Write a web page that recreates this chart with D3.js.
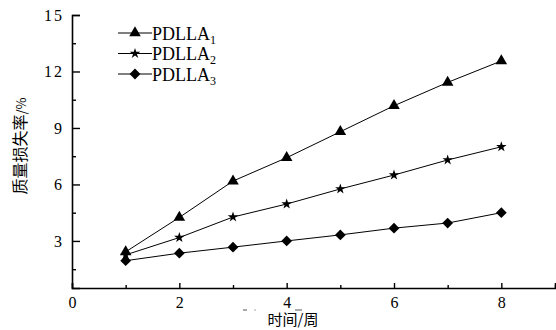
<!DOCTYPE html>
<html>
<head>
<meta charset="utf-8">
<script src="https://cdn.jsdelivr.net/npm/d3@7"></script>
<style>
  html, body { margin: 0; padding: 0; background: #fff; }
  svg { display: block; }
  .tick text { font-family: "Liberation Serif", "Times New Roman", serif; font-size: 16px; fill: #000; }
</style>
</head>
<body>
<svg id="chart" width="556" height="330"></svg>
<script>
// Weeks of degradation
const weeks = [1, 2, 3, 4, 5, 6, 7, 8];
// Mass loss (%) for each PDLLA sample
const pdlla1 = [2.42, 4.25, 6.18, 7.42, 8.8, 10.18, 11.42, 12.56];
const pdlla2 = [2.26, 3.18, 4.27, 4.96, 5.76, 6.5, 7.3, 8.0];
const pdlla3 = [1.95, 2.35, 2.67, 3.0, 3.32, 3.68, 3.95, 4.5];
const seriesNames = ["1", "2", "3"];           // subscripts of PDLLA
const xMajorTicks = [0, 2, 4, 6, 8];
const xMinorTicks = [1, 3, 5, 7, 9];
const yMajorTicks = [3, 6, 9, 12, 15];
const yMinorTicks = [1.5, 4.5, 7.5, 10.5, 13.5];

const svg = d3.select("#chart");

const x = d3.scaleLinear().domain([0, 9]).range([72, 555]);
const y = d3.scaleLinear().domain([0.5, 15]).range([288, 15]);

// marker shapes
const tri = d3.symbol().type(d3.symbolTriangle).size(58)();
const star = d3.symbol().type(d3.symbolStar).size(34)();
const dia = d3.symbol().type(d3.symbolSquare).size(58)();
const shapes = [
  { path: tri, rot: 0 },
  { path: star, rot: 0 },
  { path: dia, rot: 45 }
];
const series = [pdlla1, pdlla2, pdlla3];

// axes
const yAxis = svg.append("g").attr("transform", `translate(${x(0)},0)`)
  .call(d3.axisLeft(y).tickValues(yMajorTicks).tickSize(-8).tickPadding(8).tickFormat(d3.format("d")));
yAxis.selectAll(".tick text").attr("letter-spacing", "2px");
svg.append("g").attr("transform", `translate(${x(0)},0)`)
  .call(d3.axisLeft(y).tickValues(yMinorTicks).tickSize(-4).tickFormat(""))
  .select(".domain").remove();

svg.append("g").attr("transform", `translate(0,${y(0.5)})`)
  .call(d3.axisBottom(x).tickValues(xMajorTicks).tickSize(-5).tickPadding(9).tickFormat(d3.format("d")));
svg.append("g").attr("transform", `translate(0,${y(0.5)})`)
  .call(d3.axisBottom(x).tickValues(xMinorTicks).tickSize(-3).tickFormat(""))
  .select(".domain").remove();

svg.selectAll(".domain").attr("stroke", "#000").attr("stroke-width", 1.6);
svg.selectAll(".tick line").attr("stroke", "#000").attr("stroke-width", 1.4);

// lines and markers
const line = d3.line().x((d, i) => x(weeks[i])).y(d => y(d));
series.forEach((vals, s) => {
  svg.append("path").datum(vals)
    .attr("d", line).attr("fill", "none").attr("stroke", "#000").attr("stroke-width", 1);
  svg.append("g").selectAll("path").data(vals).join("path")
    .attr("d", shapes[s].path)
    .attr("transform", (d, i) => `translate(${x(weeks[i])},${y(d)}) rotate(${shapes[s].rot})`)
    .attr("fill", "#000");
});

// legend
const legendRows = [33, 53.5, 74];
seriesNames.forEach((n, s) => {
  const g = svg.append("g").attr("transform", `translate(0,${legendRows[s]})`);
  g.append("line").attr("x1", 118).attr("x2", 152).attr("y1", 0).attr("y2", 0)
    .attr("stroke", "#000").attr("stroke-width", 1);
  g.append("path").attr("d", shapes[s].path)
    .attr("transform", `translate(135,0) rotate(${shapes[s].rot})`).attr("fill", "#000");
  const t = g.append("text").attr("x", 152).attr("y", 6.5)
    .attr("font-family", "'Liberation Serif', 'Times New Roman', serif")
    .attr("font-size", 18).attr("fill", "#000");
  t.append("tspan").text("PDLLA");
  t.append("tspan").attr("font-size", 12).attr("dy", 4).text(n);
});

// axis titles
svg.append("text")
  .attr("transform", "translate(26,146) rotate(-90)")
  .attr("text-anchor", "middle")
  .attr("font-family", "'Noto Sans CJK SC', sans-serif")
  .attr("font-size", 16).attr("fill", "#000")
  .call(t => {
    t.append("tspan").text("质量损失率");
    t.append("tspan").attr("font-size", 13).text("/%");
  });

svg.append("text")
  .attr("x", 293).attr("y", 325)
  .attr("text-anchor", "middle")
  .attr("font-family", "'Noto Sans CJK SC', sans-serif")
  .attr("font-size", 15).attr("fill", "#000")
  .text("时间/周");

// small stray marks beneath the x axis labels
const strayMarks = [[243, 247, 310], [254.5, 255.5, 310], [295, 302, 310]];
svg.append("g").selectAll("line").data(strayMarks).join("line")
  .attr("x1", d => d[0]).attr("x2", d => d[1]).attr("y1", d => d[2]).attr("y2", d => d[2])
  .attr("stroke", "#555").attr("stroke-width", 1);
</script>
</body>
</html>
